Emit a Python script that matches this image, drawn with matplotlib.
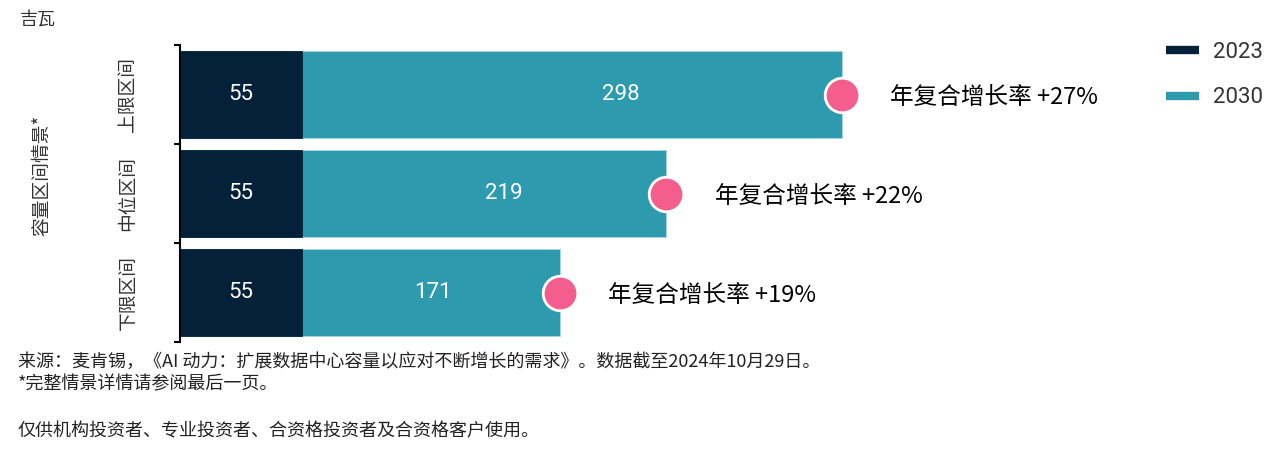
import matplotlib
matplotlib.use('Agg')
import matplotlib.pyplot as plt
from matplotlib.lines import Line2D

# data (top row first)
categories = ['上限区间', '中位区间', '下限区间']
vals_2023 = [55, 55, 55]
vals_2030 = [298, 219, 171]
cagr = ['+27%', '+22%', '+19%']
series_names = ['2023', '2030']

navy = '#03223a'
teal = '#2e9aae'
pink = '#f45e8e'
grey = '#333333'

cjk = ['Noto Sans CJK SC', 'DejaVu Sans']
num_font = ['Roboto', 'DejaVu Sans']
plt.rcParams['font.family'] = cjk

fig = plt.figure(figsize=(12.8, 4.54), dpi=100)
ax = fig.add_axes([180 / 1280, 1 - 342 / 454, 970 / 1280, 297 / 454])

y = list(range(len(categories)))
# 2030 drawn as full length, 2023 drawn over it
ax.barh(y, vals_2030, height=0.88, color=teal, edgecolor='#a6d8e0', linewidth=0.6)
ax.barh(y, vals_2023, height=0.88, color=navy, edgecolor=navy, linewidth=0.6)

for i in y:
    ax.text(vals_2023[i] / 2, i, str(vals_2023[i]), color='white', fontsize=16,
            ha='center', va='center', family=num_font)
    ax.text(vals_2030[i] * 2 / 3, i, str(vals_2030[i]), color='white', fontsize=16,
            ha='center', va='center', family=num_font)
    ax.annotate('年复合增长率 ' + cagr[i], xy=(vals_2030[i], i), xytext=(35, -2),
                textcoords='offset points', ha='left', va='center', fontsize=17,
                color='black')

ax.scatter(vals_2030, y, s=620, color=pink, edgecolor='white', linewidth=2, zorder=5)

ax.set_xlim(0, 970 / 2.22)
ax.set_ylim(2.5, -0.5)
ax.set_xticks([])
ax.set_yticks(y)
ax.set_yticklabels(categories, rotation=90, va='center', fontsize=13.5, color=grey)
ax.set_yticks([-0.5, 0.5, 1.5, 2.5], minor=True)
ax.tick_params(axis='y', which='major', length=0, pad=30)
ax.tick_params(axis='y', which='minor', length=4, width=1.5, color='black')
for s in ['top', 'right', 'bottom']:
    ax.spines[s].set_visible(False)
ax.spines['left'].set_linewidth(1.5)
ax.spines['left'].set_color('black')

handles = [Line2D([0], [0], color=navy, lw=6, solid_capstyle='butt'),
           Line2D([0], [0], color=teal, lw=6, solid_capstyle='butt')]
leg = fig.legend(handles, series_names, loc='upper left',
                 bbox_to_anchor=(1166 / 1280, 1 - 42 / 454), frameon=False,
                 handlelength=1.5, handletextpad=0.6, labelspacing=1.1,
                 borderpad=0, borderaxespad=0, prop={'family': num_font, 'size': 16})
for t in leg.get_texts():
    t.set_color(grey)

fig.text(20 / 1280, 1 - 20 / 454, '吉瓦', fontsize=13, color=grey, va='center', ha='left')
fig.text(42 / 1280, 1 - 175 / 454, '容量区间情景*', fontsize=13.5, color=grey,
         rotation=90, va='center', ha='center')

fig.text(18 / 1280, 1 - 362 / 454,
         '来源：麦肯锡，《AI 动力：扩展数据中心容量以应对不断增长的需求》。数据截至2024年10月29日。',
         fontsize=13, color='#222222', va='center', ha='left')
fig.text(18 / 1280, 1 - 384 / 454, '*完整情景详情请参阅最后一页。',
         fontsize=13, color='#222222', va='center', ha='left')
fig.text(18 / 1280, 1 - 431 / 454, '仅供机构投资者、专业投资者、合资格投资者及合资格客户使用。',
         fontsize=13, color='#222222', va='center', ha='left')

fig.savefig('out.png', dpi=100)
